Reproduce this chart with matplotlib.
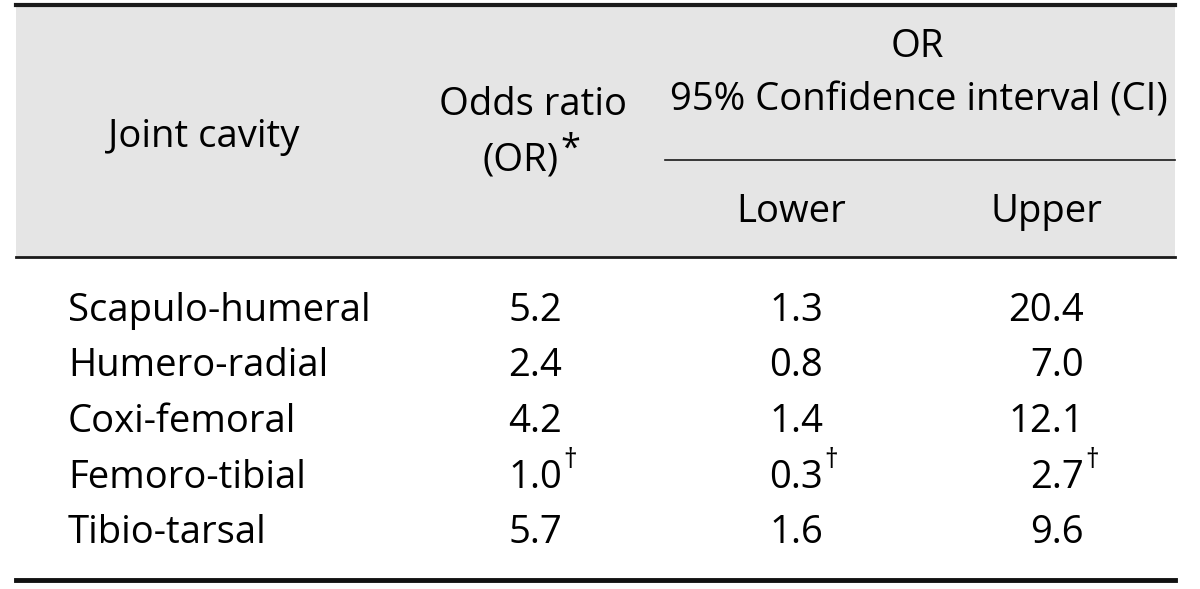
import matplotlib.pyplot as plt
from matplotlib.patches import Rectangle

# table content
joints = ["Scapulo-humeral", "Humero-radial", "Coxi-femoral", "Femoro-tibial", "Tibio-tarsal"]
odds = ["5.2", "2.4", "4.2", "1.0", "5.7"]
lower = ["1.3", "0.8", "1.4", "0.3", "1.6"]
upper = ["20.4", "7.0", "12.1", "2.7", "9.6"]
dagger_rows = [3]  # rows marked with a dagger

W, H = 1200, 589
plt.rcParams['font.family'] = ['Open Sans', 'DejaVu Sans']
FS = 27.5

fig = plt.figure(figsize=(W / 100, H / 100), dpi=100)
ax = fig.add_axes([0, 0, 1, 1])
ax.set_xlim(0, W)
ax.set_ylim(H, 0)
ax.axis("off")

left, right = 16, 1175
top, head_bot, bottom = 5, 257, 580

# header shading and rules
ax.add_patch(Rectangle((left, top), right - left, head_bot - top, color="#e5e5e5", lw=0, zorder=0))
ax.plot([left, right], [top, top], color="#1a1a1a", lw=3)
ax.plot([left, right], [head_bot, head_bot], color="#1a1a1a", lw=2)
ax.plot([665, right], [160, 160], color="#1a1a1a", lw=1.2)
ax.plot([left, right], [bottom, bottom], color="#111111", lw=3.5)

# header text
ax.text(204, 137, "Joint cavity", fontsize=FS, ha="center", va="center")
ax.text(533, 105, "Odds ratio", fontsize=FS, ha="center", va="center")
orr = ax.text(521, 160, "(OR)", fontsize=FS, ha="center", va="center")
ax.text(917, 47, "OR", fontsize=FS, ha="center", va="center")
ax.text(919, 101, "95% Confidence interval (CI)", fontsize=FS, ha="center", va="center")
ax.text(791, 212, "Lower", fontsize=FS, ha="center", va="center")
ax.text(1046, 212, "Upper", fontsize=FS, ha="center", va="center")

# body rows
row_y0, row_dy = 311, 55.5
marked = []
for i, name in enumerate(joints):
    y = row_y0 + i * row_dy
    ax.text(68, y, name, fontsize=FS, ha="left", va="center")
    t1 = ax.text(535, y, odds[i], fontsize=FS, ha="center", va="center")
    t2 = ax.text(796, y, lower[i], fontsize=FS, ha="center", va="center")
    t3 = ax.text(1084, y, upper[i], fontsize=FS, ha="right", va="center")
    if i in dagger_rows:
        marked += [(t, y) for t in (t1, t2, t3)]

# superscripts placed after the text they belong to
fig.canvas.draw()
inv = ax.transData.inverted()
ext = orr.get_window_extent()
x_end = inv.transform((ext.x1, ext.y1))[0]
ax.text(x_end + 1, 150, "*", fontsize=FS * 0.95, ha="left", va="center")
for t, y in marked:
    ext = t.get_window_extent()
    x_end = inv.transform((ext.x1, ext.y1))[0]
    ax.text(x_end + 1, y - 17, "\u2020", fontsize=FS * 0.7, ha="left", va="center")

fig.savefig("out.png", dpi=100)
